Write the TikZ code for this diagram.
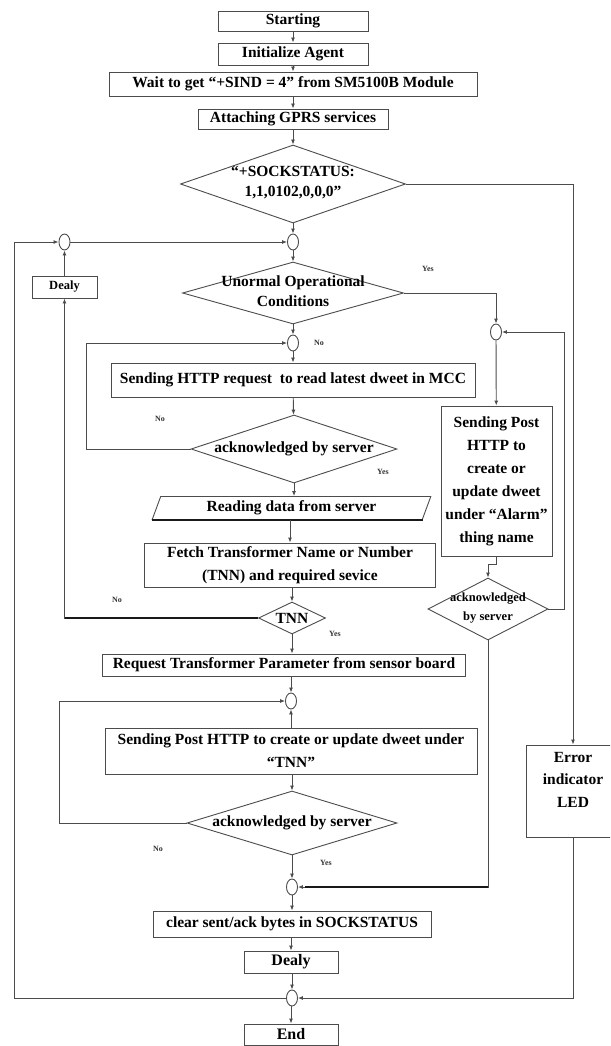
\documentclass[tikz,border=0pt]{standalone}
\usepackage{fontspec}
\setmainfont{Liberation Serif}
\usetikzlibrary{shapes.geometric,arrows.meta}

\tikzset{
  ink/.style={draw=black!70, line width=0.9pt},
  proc/.style={ink, rectangle, inner sep=0pt, align=center,
    font=\bfseries\fontsize{15.5}{23}\selectfont},
  dec/.style={ink, diamond, inner sep=0pt},
  dtext/.style={inner sep=0pt, align=center,
    font=\bfseries\fontsize{15.5}{20}\selectfont},
  junc/.style={ink, ellipse, minimum width=11pt, minimum height=16pt, inner sep=0pt},
  flow/.style={ink, -{Latex[length=5pt,width=4pt]}},
  heavy/.style={draw=black!90, line width=1.3pt},
  lbl/.style={inner sep=0pt, text=black!80, font=\bfseries\fontsize{8}{9}\selectfont}
}

\begin{document}
\begin{tikzpicture}[x=1pt, y=-1pt]
\useasboundingbox (0,0) rectangle (610,1046);
\clip (0,0) rectangle (610,1046);
\fill[white] (0,0) rectangle (610,1046);

% main column
\node[proc, minimum width=150pt, minimum height=20pt] (start) at (293,21) {Starting};
\node[proc, minimum width=150pt, minimum height=22pt] (init) at (293,54) {Initialize Agent};
\node[proc, minimum width=368pt, minimum height=24pt] (wait) at (293,84) {Wait to get “+SIND = 4” from SM5100B Module};
\node[proc, minimum width=190pt, minimum height=20pt] (gprs) at (293,119) {Attaching GPRS services};

\node[dec, minimum width=225pt, minimum height=78pt] (d1) at (293,184) {};
\node[dtext] (d1t) at (293,182.5) {“+SOCKSTATUS:\\1,1,0102,0,0,0"};

\node[junc] (cA) at (293,242) {};
\node[junc] (cL) at (64.5,242) {};
\node[proc, minimum width=65pt, minimum height=22pt,
      font=\bfseries\fontsize{12.5}{15}\selectfont] (dealyL) at (64.5,287) {Dealy};

\node[dec, minimum width=221pt, minimum height=62pt] (d2) at (293,293) {};
\node[dtext] (d2t) at (293,291) {Unormal Operational\\Conditions};

\node[junc] (cC) at (293,343) {};
\node[proc, minimum width=364pt, minimum height=34pt] (http) at (293,380) {Sending HTTP request\ \ to read latest dweet in MCC};

\node[dec, minimum width=206pt, minimum height=68pt] (a1) at (294,449) {};
\node[dtext] (a1t) at (294,449) {acknowledged by server};

\node[ink, trapezium, trapezium left angle=69, trapezium right angle=111,
      trapezium stretches=true, minimum width=279pt, minimum height=23pt,
      inner sep=0pt, font=\bfseries\fontsize{15.5}{20}\selectfont] (read) at (291.5,508) {Reading data from server};
\draw[heavy] (read.bottom left corner) -- (read.bottom right corner);

\node[proc, minimum width=291pt, minimum height=44pt] (fetch) at (290,565) {Fetch Transformer Name or Number\\(TNN) and required sevice};

\node[dec, minimum width=67pt, minimum height=32pt] (tnn) at (292,618) {};
\node[dtext] (tnnt) at (292,618) {TNN};

\node[proc, minimum width=363pt, minimum height=22pt] (req) at (284,665) {Request Transformer Parameter from sensor board};

\node[junc] (cD) at (291,701) {};
\node[proc, minimum width=372pt, minimum height=46pt] (post) at (291,751) {Sending Post HTTP to create or update dweet under\\“TNN”};

\node[dec, minimum width=210pt, minimum height=64pt] (a3) at (292,823) {};
\node[dtext] (a3t) at (292,823) {acknowledged by server};

\node[junc] (cF) at (292,887) {};
\node[proc, minimum width=278pt, minimum height=26pt] (clear) at (292,924) {clear sent/ack bytes in SOCKSTATUS};
\node[proc, minimum width=94pt, minimum height=22pt,
      font=\bfseries\fontsize{16}{20}\selectfont] (dealyB) at (291,962) {Dealy};
\node[junc] (cG) at (292,998) {};
\node[proc, minimum width=94pt, minimum height=21pt,
      font=\bfseries\fontsize{16}{20}\selectfont] (endn) at (291,1034.5) {End};

% alarm branch
\node[junc] (cB) at (496,332) {};
\node[proc, minimum width=111pt, minimum height=150pt] (rbox) at (496.5,481) {Sending Post\\HTTP to\\create or\\update dweet\\under “Alarm”\\thing name};
\node[dec, minimum width=120pt, minimum height=62pt] (a2) at (488,609) {};
\node[dtext, font=\bfseries\fontsize{12.5}{19}\selectfont] (a2t) at (488,608) {acknowledged\\by server};

% error indicator (runs past the right edge)
\node[proc, minimum width=94pt, minimum height=92pt] (err) at (573,791) {};
\node[dtext, font=\bfseries\fontsize{15.5}{22.5}\selectfont] (errt) at (573,779.5) {Error\\indicator\\LED};

% main flow
\draw[flow] (start) -- (init);
\draw[flow] (init) -- (wait);
\draw[flow] (wait) -- (gprs);
\draw[flow] (gprs) -- (d1);
\draw[flow] (d1) -- (cA);
\draw[flow] (cA) -- (d2);
\draw[flow] (d2) -- (cC);
\draw[flow] (cC) -- (http);
\draw[flow] (http) -- (a1);
\draw[flow] (a1) -- (read.north -| a1.south);
\draw[flow] (read.south -| fetch.north) -- (fetch);
\draw[flow] (fetch.south -| tnn.north) -- (tnn);
\draw[flow] (tnn.south) -- (req.north -| tnn.south);
\draw[flow] (req.south -| cD.north) -- (cD);
\draw[flow] (post.north -| cD.south) -- (cD);
\draw[flow] (post.south -| a3.north) -- (a3);
\draw[flow] (a3) -- (cF);
\draw[flow] (cF) -- (clear);
\draw[flow] (clear.south -| dealyB.north) -- (dealyB);
\draw[flow] (dealyB.south -| cG.north) -- (cG);
\draw[flow] (cG.south -| endn.north) -- (endn);

% retry loops
\draw[flow] (a1.west) -- ++(-104,0) |- (cC.west);
\draw[flow] (a3.west) -- ++(-127,0) |- (cD.west);
\draw[flow] (tnn.west) -| (dealyL.south);
\draw[heavy] (tnn.west) -- (tnn.west -| dealyL.south);
\draw[flow] (dealyL) -- (cL);
\draw[flow] (cL) -- (cA);
\draw[flow] (cG.west) -- ++(-272,0) |- (cL.west);

% alarm and error paths
\draw[flow] (d1.east) -| (err.north);
\draw[flow] (d2.east) -| (cB.north);
\draw[flow] (cB) -- (rbox);
\draw[flow] (rbox.south) -- ++(0,8) -| (a2.north);
\draw[flow] (a2.east) -- ++(16,0) |- (cB.east);
\draw[flow] (a2.south) |- (cF.east);
\draw[heavy] (a2.south |- cF.east) -- ([xshift=7pt]cF.east);
\draw[flow] (err.south) |- (cG.east);

% branch labels
\node[lbl] (y1) at (428,269) {Yes};
\node[lbl] (n1) at (319,343) {No};
\node[lbl] (n2) at (160,419) {No};
\node[lbl] (y2) at (383,472) {Yes};
\node[lbl] (n3) at (117,600) {No};
\node[lbl] (y3) at (335,634) {Yes};
\node[lbl] (n4) at (158,849) {No};
\node[lbl] (y4) at (326,863) {Yes};
\end{tikzpicture}
\end{document}
